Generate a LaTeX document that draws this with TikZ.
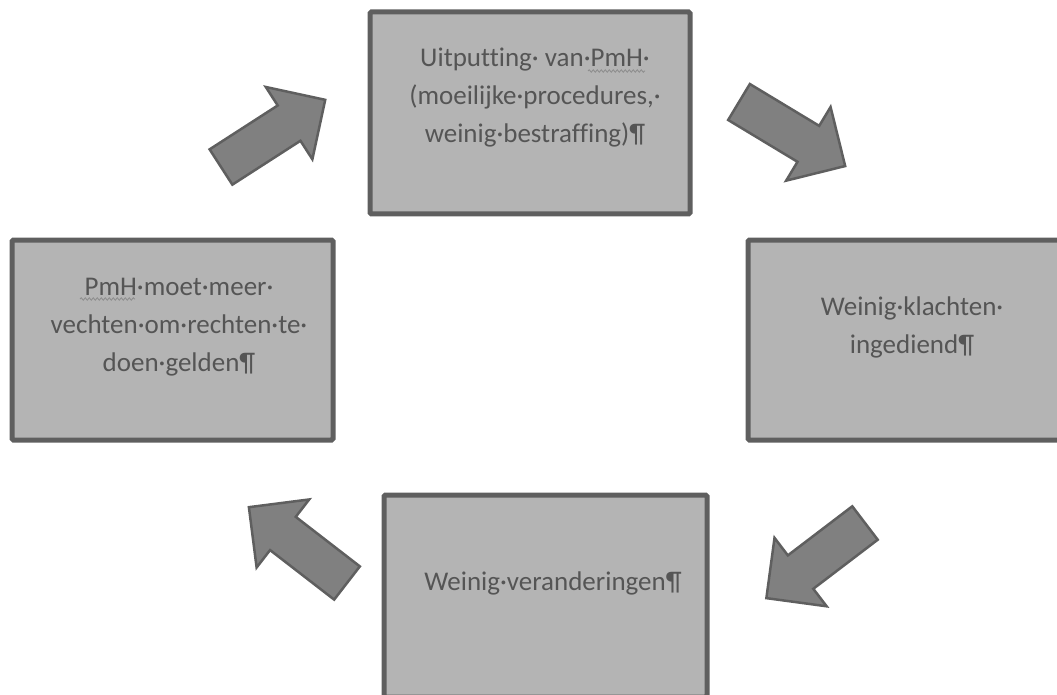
\documentclass[tikz,border=0pt]{standalone}
\usepackage{fontspec}
\setmainfont{Carlito}[Ligatures=NoCommon]
\usetikzlibrary{decorations.pathmorphing}
\definecolor{boxfill}{HTML}{B4B4B4}
\definecolor{boxline}{HTML}{5F5F5F}
\definecolor{arrfill}{HTML}{808080}
\definecolor{txt}{HTML}{555555}
\definecolor{wave}{HTML}{8C8C8C}
\tikzset{
  panel/.style={draw=boxline, line width=5pt, fill=boxfill, rounded corners=1.5pt, inner sep=0pt},
  boxtext/.style={anchor=base, inner sep=0pt, text=txt, font=\fontsize{27}{38}\selectfont},
  blockarrow/.style={draw=boxline, line width=2.5pt, fill=arrfill, line join=miter},
  spellwave/.style={draw=wave, line width=0.8pt, decorate, decoration={snake, amplitude=1.2pt, segment length=4pt}}
}
\newcommand{\blockarr}[4]{%
  \coordinate (#1) at (#2,#3);
  \begin{scope}[shift={(#1)}, rotate=#4]
    \draw[blockarrow] (0,-21) -- (81,-21) -- (81,-43) -- (124,0) -- (81,43) -- (81,21) -- (0,21) -- cycle;
  \end{scope}}
\begin{document}
\begin{tikzpicture}[x=1pt,y=-1pt]
  \useasboundingbox (0,0) rectangle (1057,695);
  \clip (0,0) rectangle (1057,695);
  % boxes
  \node[panel, minimum width=320pt, minimum height=202pt] (top) at (530,113) {};
  \node[panel, minimum width=321pt, minimum height=200pt] (left) at (172.5,340) {};
  \node[panel, minimum width=320pt, minimum height=200pt] (right) at (908,340) {};
  \node[panel, minimum width=323pt, minimum height=202pt] (bottom) at (545.5,596) {};
  % texts
  \node[boxtext] (ttop) at (535,67) {\begin{tabular}[t]{@{}c@{}}Uitputting· van·PmH·\\(moeilijke·procedures,·\\weinig·bestraffing)¶\end{tabular}};
  \node[boxtext] (tleft) at (179,295) {\begin{tabular}[t]{@{}c@{}}PmH·moet·meer·\\vechten·om·rechten·te·\\doen·gelden¶\end{tabular}};
  \node[boxtext] (tright) at (912,315) {\begin{tabular}[t]{@{}c@{}}Weinig·klachten·\\ingediend¶\end{tabular}};
  \node[boxtext] (tbottom) at (553,590) {Weinig·veranderingen¶};
  % spell-check underlines
  \coordinate (w1a) at (588,71); \coordinate (w1b) at (645,71);
  \coordinate (w2a) at (80,299); \coordinate (w2b) at (135,299);
  \path[spellwave] (w1a) -- (w1b);
  \path[spellwave] (w2a) -- (w2b);
  % block arrows
  \blockarr{a1}{221}{167}{32.8}
  \blockarr{a2}{739}{102}{-31.1}
  \blockarr{a3}{347}{583}{142.3}
  \blockarr{a4}{865}{523}{217.3}
\end{tikzpicture}
\end{document}
